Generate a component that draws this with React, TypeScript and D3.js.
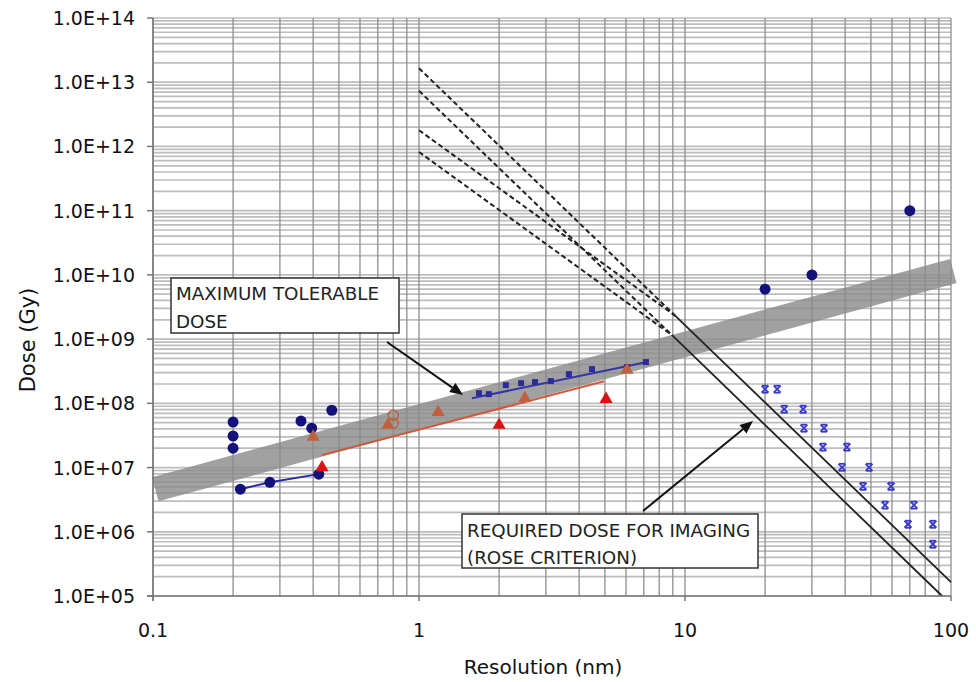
import * as d3 from "d3";

// resolution (nm) vs dose (Gy)
const xTicks = [0.1, 1, 10, 100];
const xTickLabels = ["0.1", "1", "10", "100"];
const yTicks = [1e5, 1e6, 1e7, 1e8, 1e9, 1e10, 1e11, 1e12, 1e13, 1e14];
const yTickLabels = ["1.0E+05", "1.0E+06", "1.0E+07", "1.0E+08", "1.0E+09", "1.0E+10", "1.0E+11", "1.0E+12", "1.0E+13", "1.0E+14"];

const tolerableBand = [[0.102, 4.6e6], [102, 1.15e10]];

const requiredSolid = [
  [[9.2, 2.3e9], [100, 1.65e5]],
  [[8.94, 1.15e9], [92.6, 1e5]],
];
const requiredDashed = [
  [[1, 1.65e13], [9.2, 2.3e9]],
  [[1, 1.79e12], [9.2, 2.3e9]],
  [[1, 7.35e12], [8.94, 1.15e9]],
  [[1, 8.2e11], [8.94, 1.15e9]],
];

const blueCircles = [[0.2, 5.1e7], [0.2, 3.1e7], [0.2, 2.0e7], [0.36, 5.3e7], [0.395, 4.1e7], [0.47, 7.8e7], [20, 6.0e9], [30, 1.0e10], [70, 1.0e11]];
const blueCircleSeries = [[0.213, 4.6e6], [0.275, 5.9e6], [0.42, 7.9e6]];
const blueSquares = [[1.68, 1.44e8], [1.83, 1.39e8], [2.12, 1.92e8], [2.42, 2.06e8], [2.73, 2.14e8], [3.13, 2.22e8], [3.66, 2.85e8], [4.47, 3.41e8], [6.05, 3.67e8], [7.13, 4.39e8]];
const blueSquareFit = [[1.58, 1.2e8], [7.2, 4.4e8]];
const brownTriangles = [[0.4, 3.0e7], [0.764, 4.6e7], [1.18, 7.3e7], [2.5, 1.2e8], [6.05, 3.3e8]];
const brownOpenCircles = [[0.8, 6.5e7], [0.8, 4.9e7]];
const brownFit = [[0.43, 1.56e7], [4.96, 2.2e8]];
const redTriangles = [[0.432, 1.0e7], [2.0, 4.6e7], [5.05, 1.16e8]];
const crossesA = [[20, 1.66e8], [23.6, 8.1e7], [28, 4.1e7], [33, 2.08e7], [38.9, 1.01e7], [46.7, 5.1e6], [56.5, 2.6e6], [68.9, 1.31e6], [85.5, 6.4e5]];
const crossesB = [[22.2, 1.66e8], [27.8, 8.1e7], [33.3, 4.1e7], [40.6, 2.08e7], [49.2, 1.01e7], [59.5, 5.1e6], [72.6, 2.6e6], [85.5, 1.31e6]];

const width = 976;
const height = 682;
const font = "'DejaVu Sans', Verdana, sans-serif";

const x = d3.scaleLog().domain([0.1, 100]).range([153, 951]);
const y = d3.scaleLog().domain([1e5, 1e14]).range([596, 18]);
const line = d3.line<number[]>().x(d => x(d[0])).y(d => y(d[1]));

const minor: number[] = [];
for (let e = -1; e < 2; e++) for (let k = 1; k < 10; k++) minor.push(k * Math.pow(10, e));
minor.push(100);
const minorY: number[] = [];
for (let e = 5; e < 14; e++) for (let k = 1; k < 10; k++) minorY.push(k * Math.pow(10, e));
minorY.push(1e14);

const tri = d3.symbol().type(d3.symbolTriangle).size(75)();

const Arrow = ({ x1, y1, x2, y2 }) => {
  const a = Math.atan2(y2 - y1, x2 - x1);
  const L = 13, W = 5.5;
  const bx = x2 - L * Math.cos(a), by = y2 - L * Math.sin(a);
  const p = [
    [x2, y2],
    [bx + W * Math.sin(a), by - W * Math.cos(a)],
    [bx - W * Math.sin(a), by + W * Math.cos(a)],
  ];
  return (
    <g>
      <line x1={x1} y1={y1} x2={bx} y2={by} stroke="#111" strokeWidth={2} />
      <polygon points={p.map(q => q.join(",")).join(" ")} fill="#111" />
    </g>
  );
};

const App = () => {
  return (
    <svg width={width} height={height} style={{ position: "absolute", left: 0, top: 0, background: "#fff" }}>
      <g>
        {minorY.map((v, i) => (
          <line key={"h" + i} x1={x(0.1)} x2={x(100)} y1={y(v)} y2={y(v)} stroke="#bdbdbd" strokeWidth={1.7} />
        ))}
        {minor.map((v, i) => (
          <line key={"v" + i} x1={x(v)} x2={x(v)} y1={y(1e14)} y2={y(1e5)} stroke="#8e8e8e" strokeWidth={1.3} />
        ))}
      </g>

      <path d={line(tolerableBand)} stroke="#8a8a8a" strokeOpacity={0.8} strokeWidth={25} fill="none" />

      {requiredDashed.map((s, i) => (
        <path key={"d" + i} d={line(s)} stroke="#222" strokeWidth={2} strokeDasharray="5,3" fill="none" />
      ))}
      {requiredSolid.map((s, i) => (
        <path key={"s" + i} d={line(s)} stroke="#222" strokeWidth={1.8} fill="none" />
      ))}

      <path d={line(brownFit)} stroke="#d0583a" strokeWidth={2} fill="none" />
      <path d={line(blueSquareFit)} stroke="#3535a5" strokeWidth={2} fill="none" />
      <path d={line(blueCircleSeries)} stroke="#2a2aa0" strokeWidth={2} fill="none" />

      {blueCircleSeries.concat(blueCircles).map((d, i) => (
        <circle key={"c" + i} cx={x(d[0])} cy={y(d[1])} r={5.5} fill="#12127a" />
      ))}
      {blueSquares.map((d, i) => (
        <rect key={"q" + i} x={x(d[0]) - 3} y={y(d[1]) - 3} width={6} height={6} fill="#2c2c98" />
      ))}
      {brownTriangles.map((d, i) => (
        <path key={"bt" + i} d={tri} transform={`translate(${x(d[0])},${y(d[1])})`} fill="#c0603e" />
      ))}
      {brownOpenCircles.map((d, i) => (
        <circle key={"bo" + i} cx={x(d[0])} cy={y(d[1])} r={5} fill="none" stroke="#c0603e" strokeWidth={1.5} />
      ))}
      {redTriangles.map((d, i) => (
        <path key={"rt" + i} d={tri} transform={`translate(${x(d[0])},${y(d[1])})`} fill="#e01010" />
      ))}
      {crossesA.concat(crossesB).map((d, i) => (
        <g key={"x" + i} transform={`translate(${x(d[0])},${y(d[1])})`} stroke="#3a3ac8" strokeWidth={1.8}>
          <line x1={-3.5} y1={-3.5} x2={3.5} y2={3.5} />
          <line x1={-3.5} y1={3.5} x2={3.5} y2={-3.5} />
          <line x1={-3} y1={-3.5} x2={3} y2={-3.5} />
          <line x1={-3} y1={3.5} x2={3} y2={3.5} />
        </g>
      ))}

      {/* axes */}
      <line x1={x(0.1)} x2={x(0.1)} y1={y(1e14)} y2={y(1e5) + 5} stroke="#777" strokeWidth={1.5} />
      <line x1={x(0.1) - 6} x2={x(100)} y1={y(1e5)} y2={y(1e5)} stroke="#777" strokeWidth={1.5} />
      {yTicks.map((v, i) => (
        <g key={"yt" + i}>
          <line x1={x(0.1) - 6} x2={x(0.1)} y1={y(v)} y2={y(v)} stroke="#777" strokeWidth={1.5} />
          <text x={135} y={y(v) + 7} textAnchor="end" fontFamily={font} fontSize={19} fill="#111">{yTickLabels[i]}</text>
        </g>
      ))}
      {xTicks.map((v, i) => (
        <g key={"xt" + i}>
          <line x1={x(v)} x2={x(v)} y1={y(1e5)} y2={y(1e5) + 5} stroke="#777" strokeWidth={1.5} />
          <text x={x(v)} y={637} textAnchor="middle" fontFamily={font} fontSize={19} fill="#111">{xTickLabels[i]}</text>
        </g>
      ))}
      <text x={543} y={674} textAnchor="middle" fontFamily={font} fontSize={20} fill="#111">Resolution (nm)</text>
      <text transform="translate(35,340) rotate(-90)" textAnchor="middle" fontFamily={font} fontSize={21} fill="#111">Dose (Gy)</text>

      {/* annotations */}
      <Arrow x1={387} y1={342} x2={463} y2={395} />
      <rect x={171} y={278} width={228} height={55} fill="#fff" stroke="#333" strokeWidth={1.5} />
      <text fontFamily={font} fontSize={18.3} fill="#222">
        <tspan x={176} y={300}>MAXIMUM TOLERABLE</tspan>
        <tspan x={176} y={328}>DOSE</tspan>
      </text>

      <Arrow x1={643} y1={511} x2={753} y2={421} />
      <rect x={462} y={514} width={296} height={54} fill="#fff" stroke="#333" strokeWidth={1.5} />
      <text fontFamily={font} fontSize={18.3} fill="#222">
        <tspan x={467} y={537}>REQUIRED DOSE FOR IMAGING</tspan>
        <tspan x={467} y={564}>(ROSE CRITERION)</tspan>
      </text>
    </svg>
  );
};

export default App;
